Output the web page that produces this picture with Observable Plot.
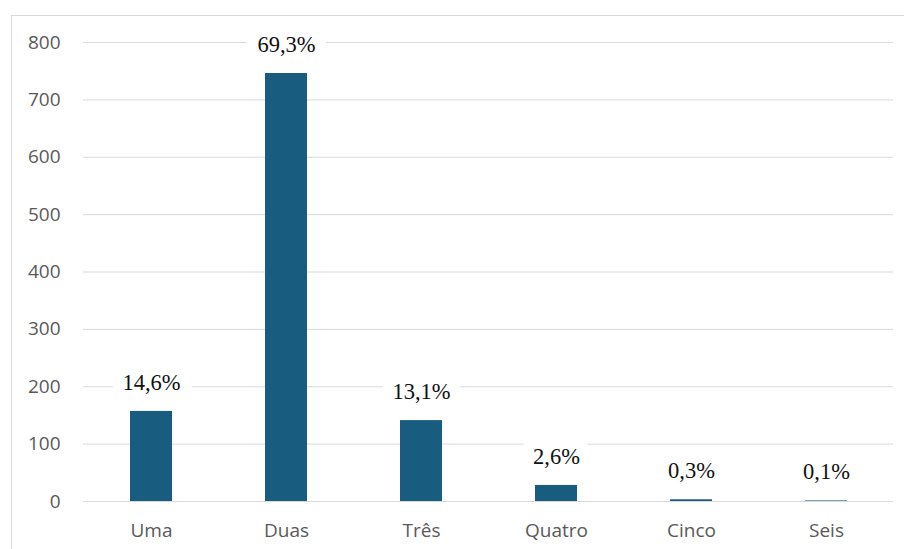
<!DOCTYPE html>
<html>
<head>
<meta charset="utf-8">
<script src="https://cdn.jsdelivr.net/npm/d3@7"></script>
<script src="https://cdn.jsdelivr.net/npm/@observablehq/plot@0.6"></script>
<style>
  html, body { margin: 0; padding: 0; background: #fff; }
  #wrap { position: relative; width: 904px; height: 549px; overflow: hidden; }
  #frame {
    position: absolute; left: 11px; top: 15px; width: 893px; height: 534px;
    border-left: 1px solid #d9d9d9; border-top: 1px solid #d9d9d9;
    box-sizing: border-box; pointer-events: none;
  }
  #chart { position: absolute; left: 0; top: 0; }
</style>
</head>
<body>
<div id="wrap">
  <div id="frame"></div>
  <div id="chart"></div>
</div>
<script>
// Number of items per respondent and how many answered each
const categories = ["Uma", "Duas", "Três", "Quatro", "Cinco", "Seis"];
const counts = [157, 746, 141, 28, 3, 1];
const yTicks = [0, 100, 200, 300, 400, 500, 600, 700, 800];

const total = d3.sum(counts);
const rows = categories.map((c, i) => ({
  category: c,
  count: counts[i],
  label: (counts[i] / total * 100).toFixed(1).replace(".", ",") + "%"
}));

const chart = Plot.plot({
  width: 904,
  height: 549,
  marginLeft: 83,
  marginRight: 11,
  marginTop: 42,
  marginBottom: 48,
  style: { background: "transparent", fontFamily: "'Open Sans', 'Noto Sans', sans-serif" },
  x: { domain: categories, paddingInner: 0.69, paddingOuter: 0.345, align: 0.5 },
  y: { domain: [0, 800] },
  marks: [
    Plot.gridY(yTicks, { stroke: "#d9d9d9", strokeOpacity: 1, strokeWidth: 1 }),
    Plot.barY(rows, { x: "category", y: "count", fill: "#185d7f" }),
    // percentage labels on a white halo that breaks the gridlines behind them
    Plot.text(rows, {
      x: "category",
      y: "count",
      text: "label",
      dy: -29,
      lineAnchor: "middle",
      fontFamily: "'Liberation Serif', serif",
      fontSize: 22.5,
      fill: "#111",
      stroke: "white",
      strokeWidth: 24,
      strokeLinejoin: "round"
    }),
    Plot.axisY(yTicks, {
      tickSize: 0,
      tickPadding: 23,
      fontSize: 19,
      color: "#595959",
      label: null
    }),
    Plot.axisX({
      tickSize: 0,
      tickPadding: 22,
      fontSize: 19,
      color: "#595959",
      label: null
    })
  ]
});

document.getElementById("chart").appendChild(chart);
</script>
</body>
</html>
